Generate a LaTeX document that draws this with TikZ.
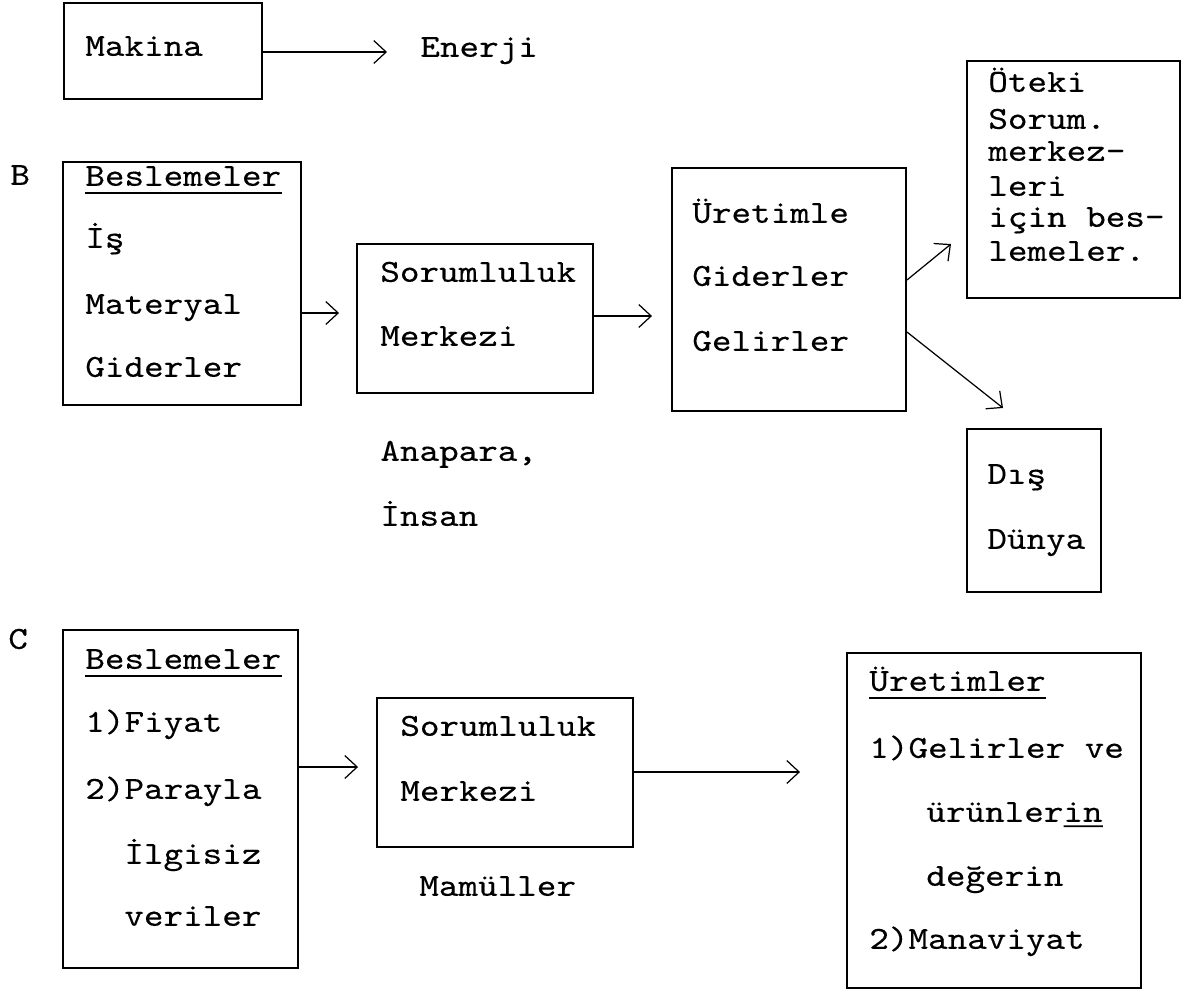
\documentclass[tikz,border=0pt]{standalone}
\usepackage{fontspec}
\setmainfont{lmmono10-regular.otf}[FakeStretch=1.16,FakeBold=0.3]
\usetikzlibrary{arrows.meta,fit,calc}
\begin{document}
\begin{tikzpicture}[x=0.02cm,y=-0.02cm,
  box/.style={draw,line width=1.1pt,inner sep=0pt},
  txt/.style={anchor=mid west,inner sep=0pt,font=\fontsize{18.3}{22}\selectfont},
  arr/.style={line width=0.7pt,-{Straight Barb[length=7pt,width=13pt,line width=0.7pt]}},
  ul/.style={line width=1pt}]
\useasboundingbox (0,0) rectangle (1191,992);

% ---------- A ----------
\node[box,fit={(64,3) (262,99)}] (mak) {};
\node[txt] (tmak) at (85,52) {Makina};
\node[txt] (ten) at (420,53) {Enerji};
\draw[arr,shorten >=0.66cm] (mak.east |- 0,52) -- (ten.west |- 0,52);

% ---------- B ----------
\node[txt] (lB) at (10,181) {B};
\node[box,fit={(63,162) (301,405)}] (bB) {};
\node[txt] (bB1) at (85,182) {Beslemeler};
\draw[ul] ([yshift=-4.2pt]bB1.base west) -- ([yshift=-4.2pt]bB1.base east);
\node[txt] (bB2) at (85,244) {İş};
\node[txt] (bB3) at (85,310) {Materyal};
\node[txt] (bB4) at (85,373) {Giderler};

\node[box,fit={(357,244) (593,393)}] (sB) {};
\node[txt] (sB1) at (380,278) {Sorumluluk};
\node[txt] (sB2) at (380,342) {Merkezi};
\node[txt] (an1) at (380,457) {Anapara,};
\node[txt] (an2) at (380,522) {İnsan};

\node[box,fit={(672,168) (906,411)}] (uB) {};
\node[txt] (uB1) at (692,219) {Üretimle};
\node[txt] (uB2) at (692,282) {Giderler};
\node[txt] (uB3) at (692,347) {Gelirler};

\node[box,fit={(967,61) (1180,298)}] (oB) {};
\node[txt] (oB1) at (988,88) {Öteki};
\node[txt] (oB2) at (988,125) {Sorum.};
\node[txt] (oB3) at (988,157) {merkez-};
\node[txt] (oB4) at (988,192) {leri};
\node[txt] (oB5) at (988,223) {için bes-};
\node[txt] (oB6) at (988,257) {lemeler.};

\node[box,fit={(967,429) (1101,592)}] (dB) {};
\node[txt] (dB1) at (987,480) {Dış};
\node[txt] (dB2) at (987,545) {Dünya};

\coordinate (oIn) at (951,244);
\coordinate (dIn) at (1003,408);

\draw[arr,shorten >=0.34cm] (bB.east |- 0,313) -- (sB.west |- 0,313);
\draw[arr,shorten >=0.38cm] (sB.east |- 0,316) -- (uB.west |- 0,316);
\draw[arr] (uB.east |- 0,280) -- (oIn);
\draw[arr] (uB.east |- 0,332) -- (dIn);

% ---------- C ----------
\node[txt] (lC) at (8,645) {C};
\node[box,fit={(63,630) (298,968)}] (bC) {};
\node[txt] (bC1) at (85,665) {Beslemeler};
\draw[ul] ([yshift=-4.2pt]bC1.base west) -- ([yshift=-4.2pt]bC1.base east);
\node[txt] (bC2) at (85,728) {1)Fiyat};
\node[txt] (bC3) at (85,795) {2)Parayla};
\node[txt] (bC4) at (124,860) {İlgisiz};
\node[txt] (bC5) at (124,922) {veriler};

\node[box,fit={(377,698) (633,847)}] (sC) {};
\node[txt] (sC1) at (400,732) {Sorumluluk};
\node[txt] (sC2) at (400,797) {Merkezi};
\node[txt] (mam) at (419,892) {Mamüller};

\node[box,fit={(847,653) (1141,988)}] (pC) {};
\node[txt] (pC1) at (869,687) {Üretimler};
\draw[ul] ([yshift=-4.2pt]pC1.base west) -- ([yshift=-4.2pt]pC1.base east);
\node[txt] (pC2) at (869,754) {1)Gelirler ve};
\node[txt] (pC3) at (926,818) {ürünlerin};
\draw[ul] ([yshift=-2.5pt]$(pC3.base west)!0.778!(pC3.base east)$) -- ([yshift=-2.5pt]pC3.base east);
\node[txt] (pC4) at (926,882) {değerin};
\node[txt] (pC5) at (869,945) {2)Manaviyat};

\draw[arr,shorten >=0.36cm] (bC.east |- 0,767) -- (sC.west |- 0,767);
\draw[arr,shorten >=0.92cm] (sC.east |- 0,772) -- (pC.west |- 0,772);
\end{tikzpicture}
\end{document}
